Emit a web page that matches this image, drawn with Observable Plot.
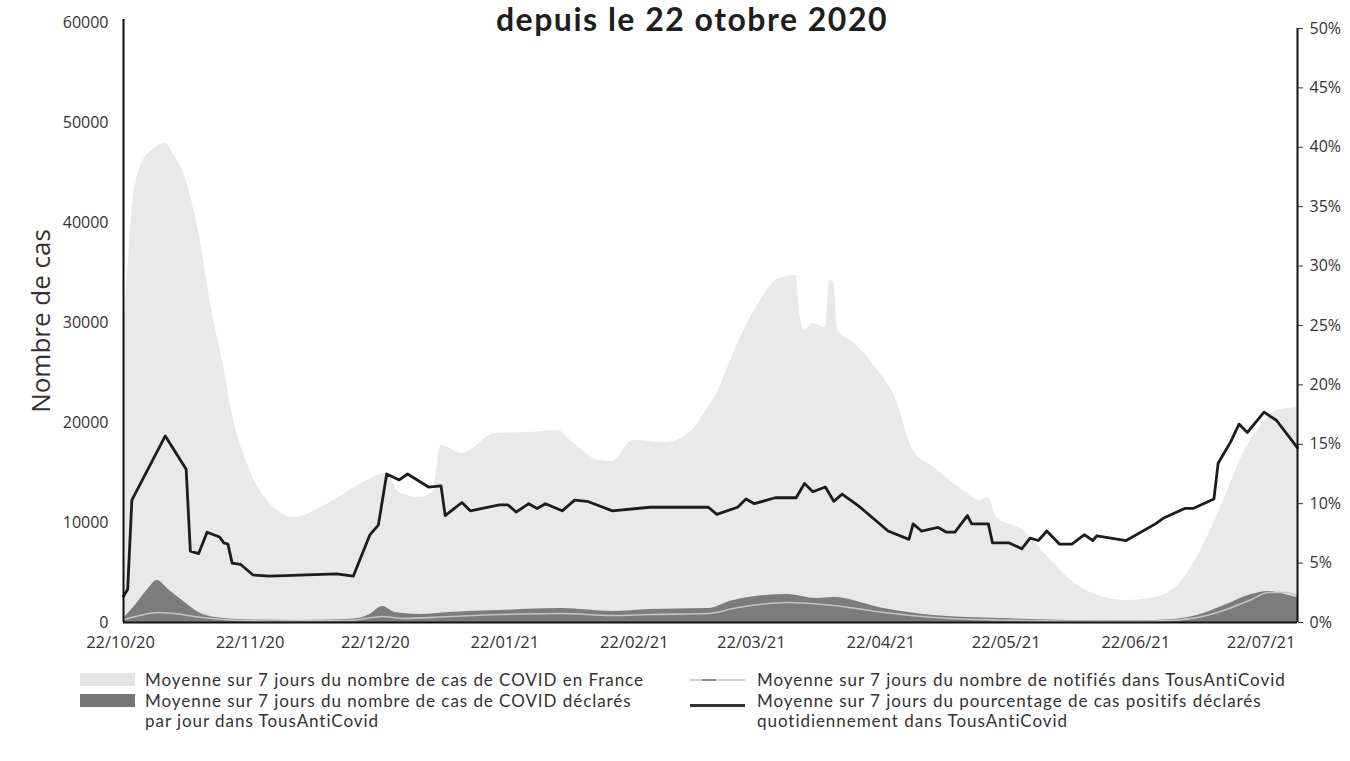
<!DOCTYPE html>
<html><head><meta charset="utf-8">
<script src="https://cdn.jsdelivr.net/npm/d3@7"></script>
<script src="https://cdn.jsdelivr.net/npm/@observablehq/plot@0.6"></script>
<style>
body{margin:0;background:#fff;font-family:"Open Sans",sans-serif;}
#wrap{position:relative;width:1350px;height:761px;overflow:hidden;}
#chart{position:absolute;left:0;top:0;}
#title{position:absolute;top:3px;left:692px;transform:translateX(-50%);font-family:Lato,sans-serif;font-weight:700;font-size:32px;letter-spacing:1.5px;line-height:1;white-space:nowrap;color:#1e1e1e;}
#ylab{position:absolute;left:40px;top:321px;transform:translate(-50%,-50%) rotate(-90deg);font-size:26px;color:#333;white-space:nowrap;}
.lg{position:absolute;font-family:Lato,sans-serif;font-size:17px;letter-spacing:0.95px;color:#333;white-space:nowrap;line-height:20.5px;}
.sw{position:absolute;}
</style></head><body>
<div id="wrap">
<div id="chart"></div>
<div id="title">depuis le 22 otobre 2020</div>
<div id="ylab">Nombre de cas</div>
</div>
<script>
// Moyenne 7 jours cas COVID France
const franceDates = ["2020-10-22","2020-10-23","2020-10-24","2020-10-26","2020-10-29","2020-11-01","2020-11-03","2020-11-06","2020-11-09","2020-11-12","2020-11-15","2020-11-17","2020-11-21","2020-11-26","2020-12-02","2020-12-10","2020-12-18","2020-12-24","2020-12-27","2021-01-01","2021-01-04","2021-01-06","2021-01-11","2021-01-19","2021-01-27","2021-02-03","2021-02-06","2021-02-13","2021-02-16","2021-02-21","2021-03-01","2021-03-07","2021-03-10","2021-03-13","2021-03-18","2021-03-23","2021-03-28","2021-04-01","2021-04-02","2021-04-03","2021-04-05","2021-04-08","2021-04-09","2021-04-10","2021-04-11","2021-04-15","2021-04-20","2021-04-25","2021-04-29","2021-05-04","2021-05-11","2021-05-15","2021-05-17","2021-05-19","2021-05-25","2021-06-01","2021-06-05","2021-06-11","2021-06-19","2021-06-26","2021-07-03","2021-07-08","2021-07-13","2021-07-17","2021-07-21","2021-07-25","2021-07-30"];
const franceCases = [30000,35000,41000,45500,47300,47900,46800,44200,39000,31500,25500,20900,15500,11900,10500,11900,13900,14900,13000,12500,13000,17700,16900,18900,19000,19200,18200,16200,16100,18200,18000,19200,20900,22900,27900,31900,34400,34700,30500,29200,29900,29500,34200,34000,29200,27900,25500,22200,17200,15500,13200,12200,12500,10500,9300,6200,4500,2900,2200,2500,4500,8200,12900,16900,19500,21200,21500];

// Moyenne 7 jours cas déclarés dans TousAntiCovid
const declaredDates = ["2020-10-22","2020-10-25","2020-10-28","2020-10-30","2020-11-02","2020-11-06","2020-11-09","2020-11-13","2020-11-21","2020-12-03","2020-12-15","2020-12-20","2020-12-23","2020-12-26","2021-01-01","2021-01-08","2021-01-20","2021-02-04","2021-02-16","2021-02-25","2021-03-11","2021-03-17","2021-03-30","2021-04-06","2021-04-10","2021-04-22","2021-05-04","2021-05-20","2021-06-13","2021-06-26","2021-07-06","2021-07-13","2021-07-19","2021-07-23","2021-07-27","2021-07-30"];
const declaredCases = [400,1800,3400,4200,3200,1900,1000,500,250,200,300,800,1600,1000,800,1000,1200,1400,1100,1300,1400,2200,2800,2400,2500,1400,700,400,150,200,700,1800,2800,3100,2800,2500];

// Moyenne 7 jours notifiés dans TousAntiCovid
const notifiedDates = ["2020-10-22","2020-10-26","2020-10-30","2020-11-03","2020-11-08","2020-11-15","2020-11-25","2020-12-15","2020-12-23","2020-12-28","2021-01-08","2021-01-20","2021-02-04","2021-02-16","2021-02-25","2021-03-11","2021-03-17","2021-03-30","2021-04-10","2021-04-22","2021-05-04","2021-05-20","2021-06-13","2021-06-26","2021-07-06","2021-07-13","2021-07-19","2021-07-23","2021-07-27","2021-07-30"];
const notifiedCases = [300,700,1000,900,600,300,150,200,600,400,600,800,900,700,800,900,1400,2000,1700,1000,500,250,100,150,500,1300,2300,3000,3000,2700];

// Moyenne 7 jours % de cas positifs déclarés (axe droit)
const positivityDates = ["2020-10-22","2020-10-23","2020-10-24","2020-11-01","2020-11-06","2020-11-07","2020-11-09","2020-11-11","2020-11-14","2020-11-15","2020-11-16","2020-11-17","2020-11-19","2020-11-22","2020-11-26","2020-12-12","2020-12-16","2020-12-20","2020-12-22","2020-12-24","2020-12-27","2020-12-29","2021-01-03","2021-01-06","2021-01-07","2021-01-11","2021-01-13","2021-01-20","2021-01-22","2021-01-24","2021-01-27","2021-01-29","2021-01-31","2021-02-04","2021-02-07","2021-02-10","2021-02-16","2021-02-25","2021-03-11","2021-03-13","2021-03-18","2021-03-20","2021-03-22","2021-03-27","2021-04-01","2021-04-03","2021-04-05","2021-04-08","2021-04-10","2021-04-12","2021-04-16","2021-04-23","2021-04-28","2021-04-29","2021-05-01","2021-05-05","2021-05-07","2021-05-09","2021-05-12","2021-05-13","2021-05-17","2021-05-18","2021-05-22","2021-05-25","2021-05-27","2021-05-29","2021-05-31","2021-06-03","2021-06-06","2021-06-09","2021-06-11","2021-06-12","2021-06-19","2021-06-26","2021-06-28","2021-07-03","2021-07-05","2021-07-10","2021-07-11","2021-07-14","2021-07-16","2021-07-18","2021-07-22","2021-07-25","2021-07-30"];
const positivityPct = [2.2,2.8,10.3,15.7,12.9,6.0,5.8,7.6,7.2,6.7,6.6,5.0,4.9,4.0,3.9,4.1,3.9,7.4,8.2,12.5,12.0,12.5,11.4,11.5,9.0,10.1,9.4,9.9,9.9,9.3,10.0,9.6,10.0,9.4,10.3,10.2,9.4,9.7,9.7,9.1,9.7,10.4,10.0,10.5,10.5,11.7,11.0,11.4,10.2,10.8,9.8,7.7,7.0,8.3,7.7,8.0,7.6,7.6,9.0,8.3,8.3,6.7,6.7,6.2,7.1,6.9,7.7,6.6,6.6,7.4,6.9,7.3,6.9,8.3,8.8,9.6,9.6,10.4,13.4,15.2,16.7,16.0,17.7,17.0,14.7];

const leftTicks = [0,10000,20000,30000,40000,50000,60000];
const rightTicks = [0,5,10,15,20,25,30,35,40,45,50];
const xTickDates = ["2020-10-22","2020-11-22","2020-12-22","2021-01-22","2021-02-22","2021-03-22","2021-04-22","2021-05-22","2021-06-22","2021-07-22"];
const legendLeft = ["Moyenne sur 7 jours du nombre de cas de COVID en France","Moyenne sur 7 jours du nombre de cas de COVID déclarés","par jour dans TousAntiCovid"];
const legendRight = ["Moyenne sur 7 jours du nombre de notifiés dans TousAntiCovid","Moyenne sur 7 jours du pourcentage de cas positifs déclarés","quotidiennement dans TousAntiCovid"];

const parse = d3.utcParse("%Y-%m-%d");
const zip = (ds, vs) => ds.map((d,i)=>({date: parse(d), value: vs[i]}));
const france = zip(franceDates, franceCases);
const declared = zip(declaredDates, declaredCases);
const notified = zip(notifiedDates, notifiedCases);
const positivity = zip(positivityDates, positivityPct);
const K = 60000/50.5;
const x0 = parse("2020-10-22"), x1 = parse("2021-07-30");

const chart = Plot.plot({
  width:1350, height:660, marginLeft:123, marginRight:53, marginTop:22, marginBottom:38,
  style:{fontFamily:"Open Sans, sans-serif", fontSize:"15.5px", color:"#333", background:"transparent"},
  x:{type:"utc", domain:[x0,x1]},
  y:{domain:[0,60000]},
  marks:[
    Plot.areaY(france,{x:"date",y:"value",fill:"#e9e9e9",curve:"monotone-x"}),
    Plot.areaY(declared,{x:"date",y:"value",fill:"#7c7c7c",curve:"monotone-x"}),
    Plot.line(notified,{x:"date",y:"value",stroke:"#c4c4c4",strokeWidth:1.6,curve:"monotone-x"}),
    Plot.line(positivity,{x:"date",y:d=>d.value*K,stroke:"#1c1c1c",strokeWidth:2.8,strokeLinejoin:"round"}),
    Plot.ruleY([0],{stroke:"#111",strokeWidth:2}),
    Plot.ruleX([x0],{y1:0,y2:60300,stroke:"#111",strokeWidth:2}),
    Plot.ruleX([x1],{y1:0,y2:50*K,stroke:"#111",strokeWidth:2}),
    Plot.axisY(leftTicks,{anchor:"left",tickSize:0,tickPadding:15,fontSize:16,tickFormat:d=>String(d),label:null}),
    Plot.axisY(rightTicks.map(p=>p*K),{anchor:"right",tickSize:5,tickPadding:7,fontSize:16,tickFormat:d=>Math.round(d/K)+"%",label:null}),
    Plot.axisX(xTickDates.map(parse),{tickSize:0,tickPadding:14,fontSize:16.5,dx:-3,tickFormat:d3.utcFormat("%d/%m/%y"),label:null})
  ]
});
document.getElementById("chart").appendChild(chart);

const wrap = document.getElementById("wrap");
function add(cls, style, text){
  const el = document.createElement("div");
  el.className = cls;
  Object.assign(el.style, style);
  if (text) el.textContent = text;
  wrap.appendChild(el);
}
// left legend
add("sw",{left:"80px",top:"673px",width:"55px",height:"13px",background:"#e4e4e4"});
add("sw",{left:"80px",top:"694px",width:"55px",height:"13px",background:"#767676"});
legendLeft.forEach((t,i)=>add("lg",{left:"145px",top:(670+i*20.5)+"px"},t));
// right legend
add("sw",{left:"690px",top:"679px",width:"55px",height:"2px",background:"#d0d0d0"});
add("sw",{left:"702px",top:"679px",width:"14px",height:"2px",background:"#8a8a8a"});
add("sw",{left:"690px",top:"704px",width:"55px",height:"3px",background:"#333"});
legendRight.forEach((t,i)=>add("lg",{left:"757px",top:(670+i*20.5)+"px"},t));
</script>
</body></html>
